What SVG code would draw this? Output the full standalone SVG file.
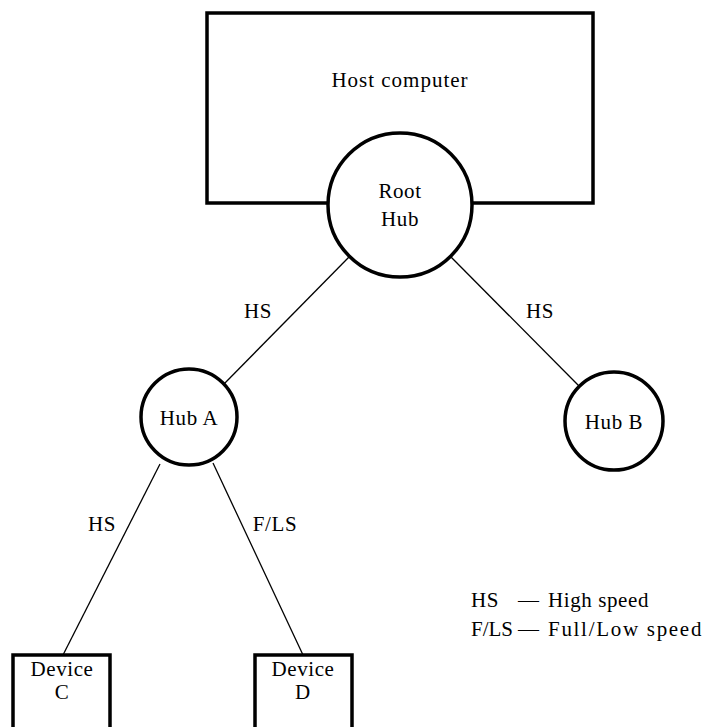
<svg xmlns="http://www.w3.org/2000/svg" width="709" height="727" viewBox="0 0 709 727">
<style>
  .box { fill: #fff; stroke: #000; stroke-width: 3.5; }
  .hub { fill: #fff; stroke: #000; stroke-width: 3.5; }
  .edge { stroke: #000; stroke-width: 1.3; fill: none; }
  text { font-family: "Liberation Serif", "Times New Roman", serif; font-size: 21px; fill: #000; letter-spacing: 0.6px; }
  .c { text-anchor: middle; }
</style>
<rect width="709" height="727" fill="#fff"/>
<g id="connectors">
  <line class="edge" x1="349" y1="257" x2="223" y2="385"/>
  <line class="edge" x1="451" y1="257" x2="579" y2="386"/>
  <line class="edge" x1="160" y1="464" x2="63" y2="655"/>
  <line class="edge" x1="213" y1="463" x2="303" y2="655"/>
  <text x="258" y="318" class="c">HS</text>
  <text x="540" y="318" class="c">HS</text>
  <text x="102" y="531" class="c">HS</text>
  <text x="275" y="531" class="c">F/LS</text>
</g>
<g id="host">
  <rect class="box" x="207" y="13" width="386" height="190"/>
  <text x="400" y="87" class="c" style="letter-spacing:1px">Host computer</text>
</g>
<g id="root-hub">
  <circle class="hub" cx="400" cy="205" r="72"/>
  <text x="400" y="198" class="c">Root</text>
  <text x="400" y="226" class="c">Hub</text>
</g>
<g id="hub-a">
  <circle class="hub" cx="189" cy="417" r="48"/>
  <text x="189" y="425" class="c">Hub A</text>
</g>
<g id="hub-b">
  <circle class="hub" cx="614" cy="421" r="49"/>
  <text x="614" y="429" class="c">Hub B</text>
</g>
<g id="device-c">
  <rect class="box" x="13" y="655" width="97" height="80"/>
  <text x="62" y="676" class="c">Device</text>
  <text x="62" y="699" class="c">C</text>
</g>
<g id="device-d">
  <rect class="box" x="255" y="655" width="97" height="80"/>
  <text x="303" y="676" class="c">Device</text>
  <text x="303" y="699" class="c">D</text>
</g>
<g id="legend">
  <text x="471" y="607">HS</text>
  <text x="518" y="607" style="letter-spacing:0">—</text>
  <text x="548" y="607">High speed</text>
  <text x="471" y="636" style="letter-spacing:0">F/LS</text>
  <text x="518" y="636" style="letter-spacing:0">—</text>
  <text x="548" y="636" textLength="154" lengthAdjust="spacing">Full/Low speed</text>
</g>
</svg>
